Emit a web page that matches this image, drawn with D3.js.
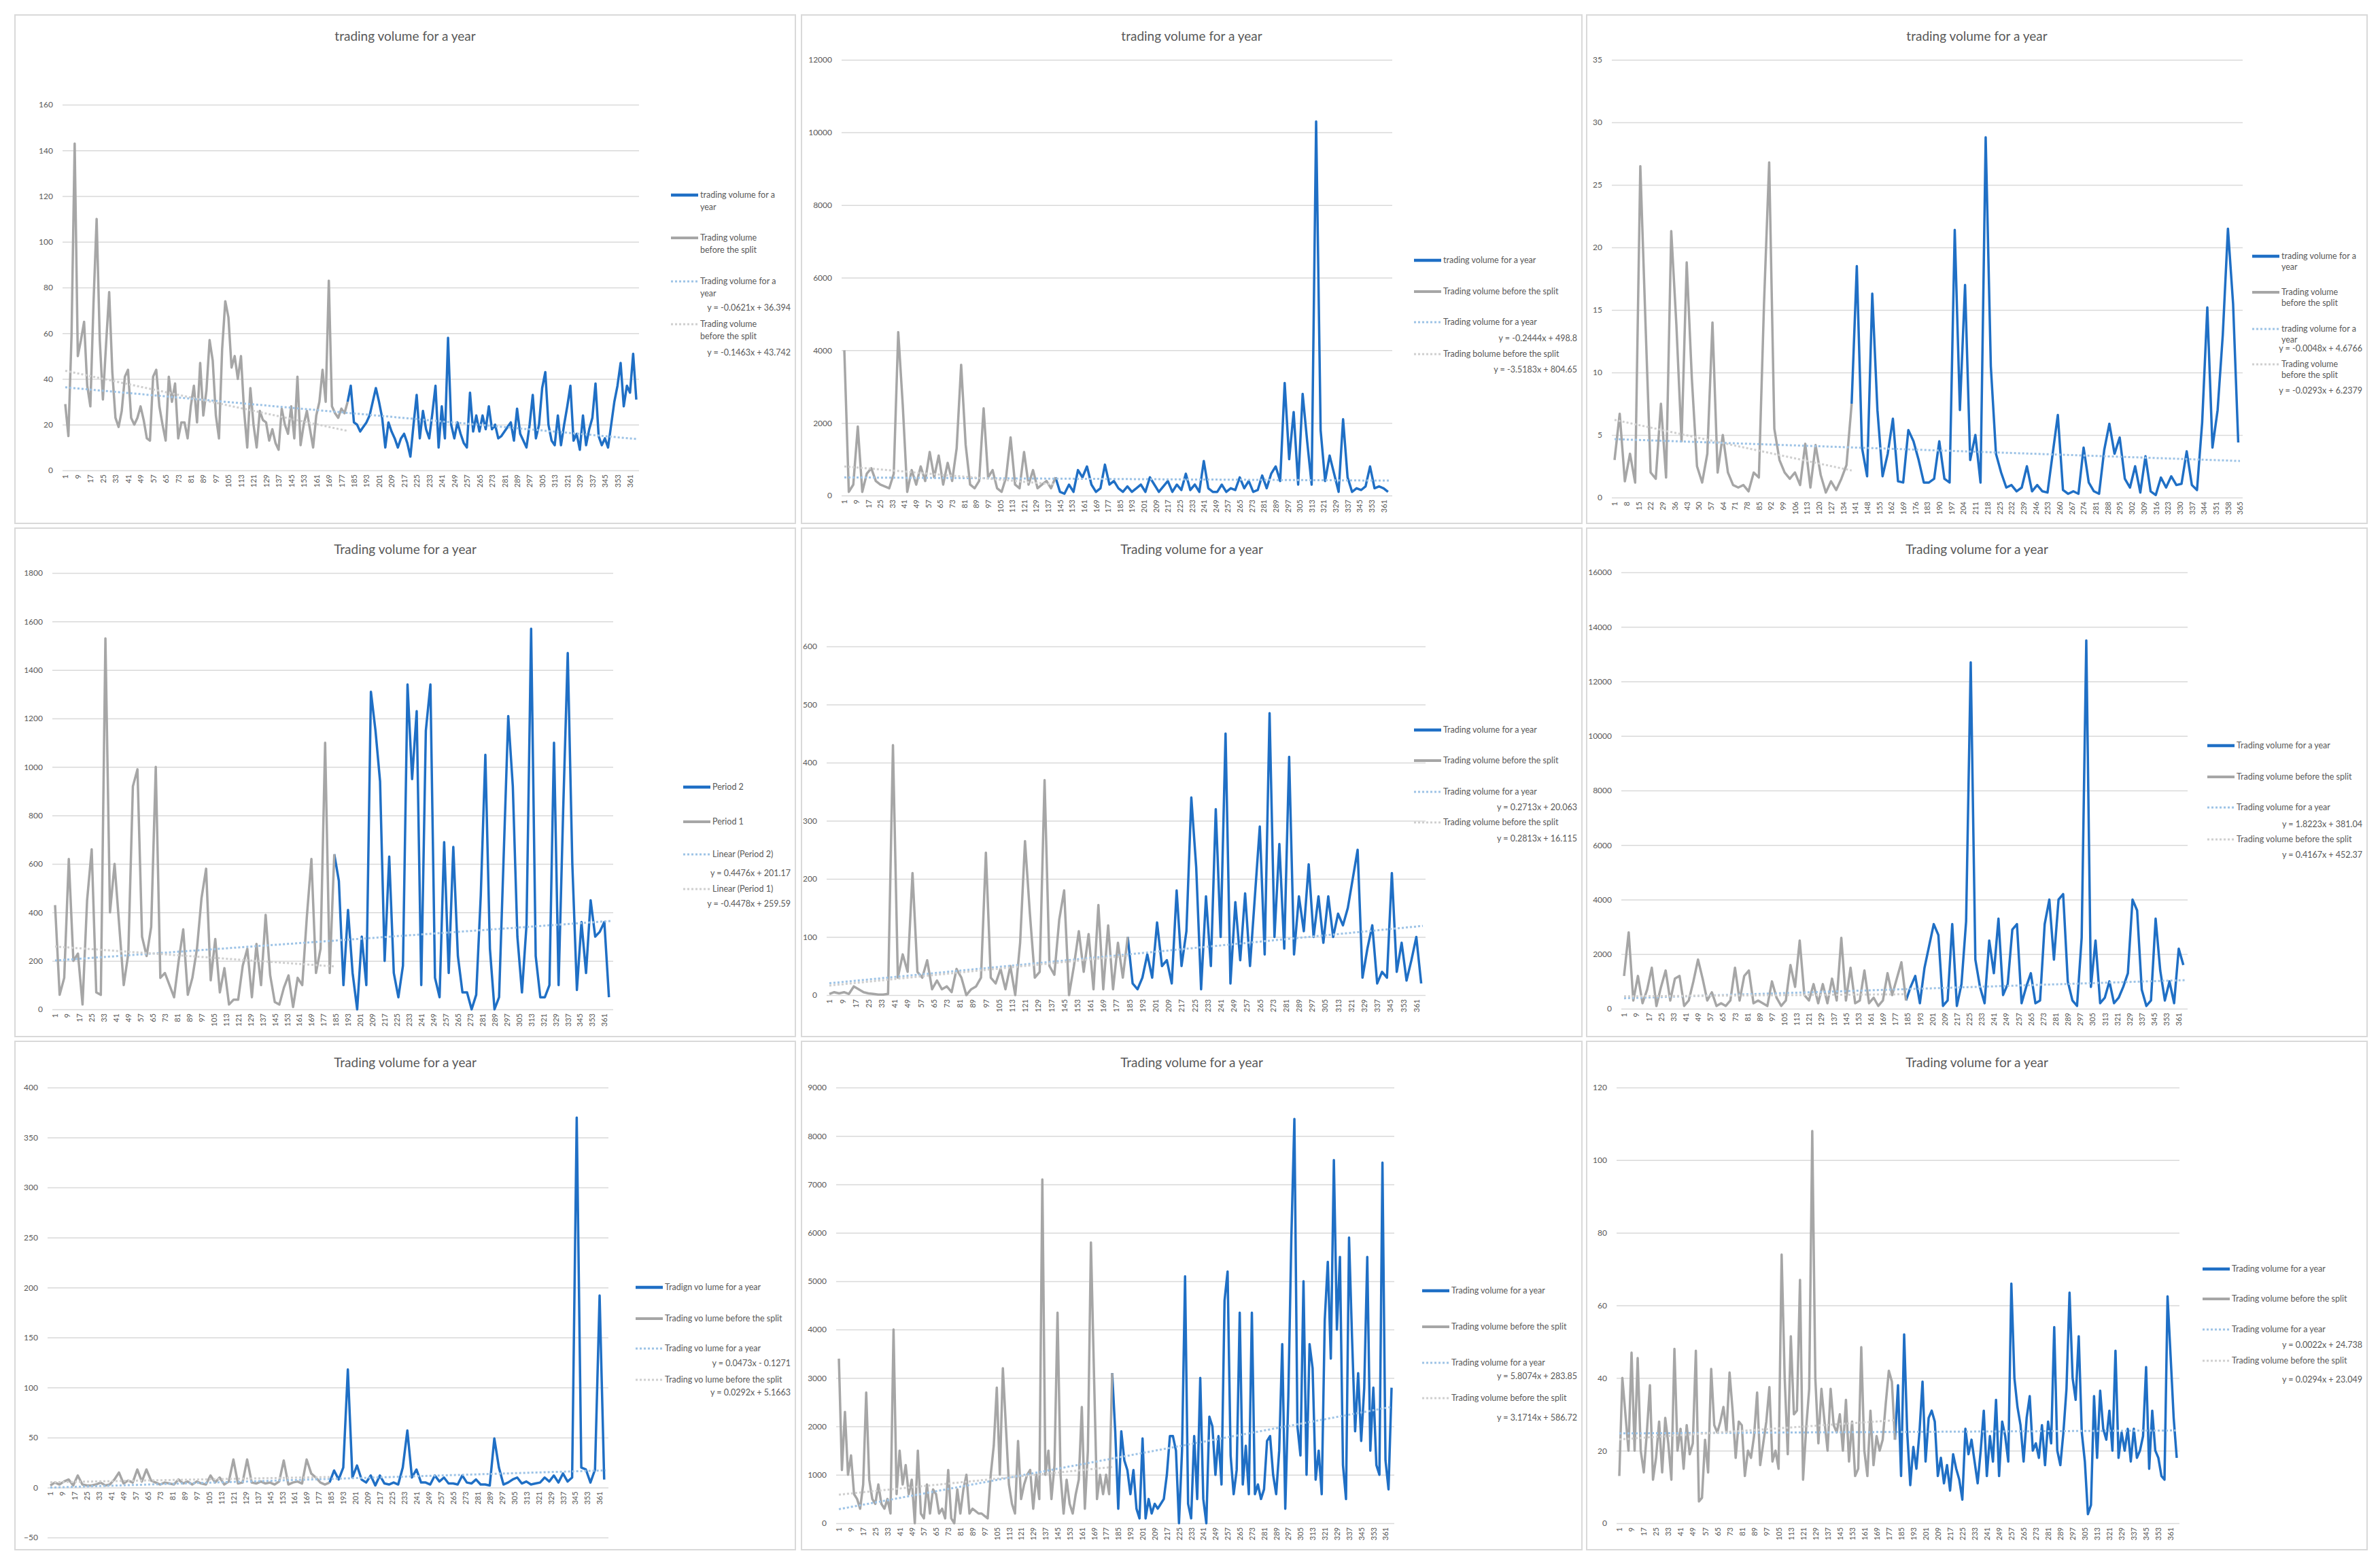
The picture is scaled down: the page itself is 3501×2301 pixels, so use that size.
<!DOCTYPE html>
<html>
<head>
<meta charset="utf-8">
<script src="https://cdn.jsdelivr.net/npm/d3@7"></script>
<style>
  body { margin: 0; background: #fff; }
  text { font-family: Lato, "Open Sans", sans-serif; fill: #595959; }
</style>
</head>
<body>
<svg id="chart" width="3501" height="2301"></svg>
<script>
"use strict";

//// data: one value every steps[i] days, gray = before the split, blue = rest of the year
const steps = [2, 3, 3, 3, 3, 3, 3, 2, 2];

const p1Before = [29,15,59,143,50,57,65,37,28,73, 110,57,31,55,78,43,23,19,26,41, 44,23,20,23,28,22,14,13,41,44, 28,20,13,41,30,38,14,21,21,14, 28,37,21,47,24,35,57,48,24,14, 53,74,67,45,50,40,50,26,10,36, 20,10,26,22,21,13,18,12,9,27, 20,16,28,14,41,11,20,26,18,10, 24,30,44,30,83,28,25,23,27,25, 30];
const p1After = [37,21,20,17,19,21,24,30,36,30, 23,10,21,17,14,10,14,16,12,6, 20,33,14,26,18,14,25,37,10,28, 14,58,20,14,21,16,12,10,34,17, 24,17,24,18,28,18,20,14,15,17, 19,21,13,27,16,13,10,20,33,14, 20,36,43,20,13,11,24,11,20,28, 37,13,16,9,24,11,18,23,38,15, 11,14,10,20,30,37,47,28,37,34, 51,31];

const p2Before = [4000,100,300,1900,100,600,750,400,300,250,200,600,4500,2500,100,700,300,800,400,1200,500,1100,300,900,400,1300,3600,1400,300,200,400,2400,500,700,200,100,500,1600,300,200,1200,300,700,200,300,400,200,500];
const p2After = [100,50,300,100,700,500,800,300,100,200,850,300,400,200,100,250,100,200,300,100,500,300,100,250,400,100,300,150,600,150,300,100,950,200,100,100,300,100,200,150,500,200,400,100,150,550,200,600,800,400,3100,1000,2300,300,2800,1500,300,10300,1800,400,1100,600,100,2100,500,100,200,150,250,800,200,250,200,100];

const p3Before = [3,6.7,1.3,3.5,1.2,26.5,14,2,1.5,7.5,1.6,21.3,13.8,4.5,18.8,9.5,2.5,1.2,3.5,14,2,5,2,1,0.8,1,0.5,2,1.6,15.5,26.8,5.5,3,2,1.5,2,1,4.3,0.8,4.2,1.8,0.4,1.3,0.6,1.5,2.6,7.5];
const p3After = [18.5,4,1.7,16.3,7,1.7,3.5,6.3,1.3,1.2,5.4,4.5,3,1.2,1.2,1.5,4.5,1.5,1.2,21.4,7,17,3,5,1.2,28.8,10.5,3.5,2,0.8,1,0.5,0.8,2.5,0.5,1,0.5,0.4,3.5,6.6,0.6,0.3,0.5,0.3,4,1.2,0.5,0.3,3.8,5.9,3.5,4.8,1.5,0.8,2.5,0.4,3.3,0.5,0.2,1.6,0.8,1.7,1,1.1,3.7,1,0.6,6,15.2,4,7,13,21.5,15.5,4.4];

const p4Before = [430,60,130,620,200,230,20,450,660,70,60,1530,400,600,350,100,230,920,990,300,220,340,1000,130,150,100,50,200,330,60,130,250,460,580,120,290,70,170,20,40,40,180,250,50,270,100,390,140,30,20,90,140,10,130,100,380,620,150,250,1100,150,640];
const p4After = [530,100,410,150,0,300,100,1310,1150,940,200,630,150,50,180,1340,950,1230,100,1150,1340,130,50,690,150,670,220,70,70,0,60,470,1050,250,0,50,630,1210,920,300,70,350,1570,220,50,50,100,1100,100,820,1470,600,80,360,150,450,300,320,360,50];

const p5Before = [2,5,3,5,2,15,10,5,3,2,1,1,2,430,30,70,40,210,40,30,60,10,25,10,15,5,45,30,0,10,15,30,245,30,20,45,10,50,0,90,265,140,30,40,370,50,35,130,180,0,50,110,40,105,10,155,10,120,10,90,30,100];
const p5After = [20,10,30,70,30,125,50,60,20,180,50,110,340,220,10,170,50,320,100,450,20,160,60,175,50,170,290,70,485,100,260,80,410,70,170,110,225,100,170,90,170,100,140,120,150,200,250,30,80,120,20,40,30,210,40,90,25,60,100,20];

const p6Before = [1200,2800,300,1200,200,700,1500,100,800,1400,300,1100,1200,100,300,1000,1800,1100,300,600,100,200,100,300,1500,300,1200,1400,200,300,200,100,1000,400,100,300,1600,800,2500,500,300,900,200,900,200,1100,300,2600,300,1500,200,300,1400,200,400,100,300,1300,500,1100,1700,300];
const p6After = [800,1200,200,1500,2300,3100,2700,100,300,3100,100,900,3200,12700,1800,800,200,2500,1300,3300,500,900,2900,3100,200,800,1300,200,300,3100,4000,1800,4000,4200,1000,300,100,2600,13500,800,2500,200,400,1000,200,400,800,1300,4000,3600,700,100,300,3300,1400,300,1000,200,2200,1600];

const p7Before = [2,5,3,6,8,2,12,3,2,2,3,5,2,3,8,15,4,7,5,18,6,18,7,5,3,5,4,3,8,4,6,3,6,4,3,12,5,10,3,6,28,4,5,28,5,4,6,4,5,3,6,27,3,5,6,4,28,14,10,5,3,5];
const p7After = [17,8,20,118,10,22,8,5,12,2,12,4,3,5,3,20,57,10,18,5,5,3,12,6,10,4,4,3,12,5,4,8,3,3,2,49,20,3,5,8,10,4,6,3,4,5,10,6,12,5,14,6,10,370,20,18,5,18,192,8];

const p8Before = [3400,1100,2300,1000,1400,600,500,300,800,2700, 900,500,400,800,400,300,500,200,4000,600, 1500,800,1200,600,900,0,1500,200,100,800, 200,700,600,200,300,100,1100,100,0,700, 200,700,1000,200,300,250,200,200,150,100, 1000,1600,2800,1000,3200,2000,800,400,200,1700, 500,800,1000,1100,300,1000,500,7100,1000,1500, 500,1200,4350,1000,200,900,400,200,600,900, 2400,300,1500,5800,3100,500,1000,600,1000,600, 3100];
const p8After = [1900,300,1900,1300,1100,600,1100,300,100,1750, 100,500,200,400,300,400,500,1000,1800,1800, 1500,0,1500,5100,400,100,1800,500,3000,500, 0,2200,2000,1000,1800,800,4600,5200,1400,600, 1100,4350,800,1600,600,4350,600,800,500,700, 1700,1800,1000,600,1500,3700,300,2600,5900,8350, 2000,1400,5000,1000,3700,3200,900,1500,600,4200, 5400,3400,7500,4000,5500,1200,500,5900,3800,1900, 3100,1700,2800,5500,1500,2800,1200,1000,7450,1300, 700,2800];

const p9Before = [13,40,30,20,47,20,45.5,20,14,25, 38,12,18,28,14,29,22,12,48,20, 26,15,27,19,22,47.5,6,7,23,14, 42.5,27,25,28,32,25,41.5,31,18,28, 27,13,20,18,24,36,16,22,28,37.5, 17,20,15,74,40,19,51.5,30,31,67, 12,26,37,108,40,22,37,28,20,37, 27,25,30,20,34,17,28,13,15,48.5, 20,13,31,16,24,20,23,33,42,39, 23];
const p9After = [38,13,52,25,10.5,21,15,25,39,17, 29,31,28,13,18,11,16,9,19,15, 12,6.5,26,19,23,17,11,20,31,13, 24,17,34,13,28,24,17,66,40,32, 27,17,29,35,20,22,18,27,16,28, 22,54,20,16,25,37,63.5,40,34,51.5, 25,17,2.5,5,35,18,36.5,26,23,31, 20,47.5,18,25,20,26,17,26,18,20, 24,43,15,31,20,18,13,12,62.5,46, 29,18];

//// linear trend coefficients [slope, intercept] as printed on the charts
const trendYear = [[-0.0621, 36.394], [-0.2444, 498.8], [-0.0048, 4.6766], [0.4476, 201.17], [0.2713, 20.063], [1.8223, 381.04], [0.0473, -0.1271], [5.8074, 283.85], [0.0022, 24.738]];
const trendSplit = [[-0.1463, 43.742], [-3.5183, 804.65], [-0.0293, 6.2379], [-0.4478, 259.59], [0.2813, 16.115], [0.4167, 452.37], [0.0292, 5.1663], [3.1714, 586.72], [0.0294, 23.049]];

//// tick labels
const yTicks = [
    [0, 20, 40, 60, 80, 100, 120, 140, 160],
    [0, 2000, 4000, 6000, 8000, 10000, 12000],
    [0, 5, 10, 15, 20, 25, 30, 35],
    [0, 200, 400, 600, 800, 1000, 1200, 1400, 1600, 1800],
    [0, 100, 200, 300, 400, 500, 600],
    [0, 2000, 4000, 6000, 8000, 10000, 12000, 14000, 16000],
    [-50, 0, 50, 100, 150, 200, 250, 300, 350, 400],
    [0, 1000, 2000, 3000, 4000, 5000, 6000, 7000, 8000, 9000],
    [0, 20, 40, 60, 80, 100, 120]
];
const dayTicks8 = d3.range(1, 366, 8);
const dayTicks7 = d3.range(1, 366, 7);

const titles = [
    "trading volume for a year", "trading volume for a year", "trading volume for a year",
    "Trading volume for a year", "Trading volume for a year", "Trading volume for a year",
    "Trading volume for a year", "Trading volume for a year", "Trading volume for a year"
];
const legendLabels = [
    ["trading volume for a|year", "Trading volume|before the split", "Trading volume for a|year", "Trading volume|before the split"],
    ["trading volume for a year", "Trading volume before the split", "Trading volume for a year", "Trading bolume before the split"],
    ["trading volume for a|year", "Trading volume|before the split", "trading volume for a|year", "Trading volume|before the split"],
    ["Period 2", "Period 1", "Linear  (Period 2)", "Linear  (Period 1)"],
    ["Trading volume for a year", "Trading volume before the split", "Trading volume for a year", "Trading volume before the split"],
    ["Trading volume for a year", "Trading volume before the split", "Trading volume for a year", "Trading volume before the split"],
    ["Tradign vo lume for a year", "Trading vo lume before the split", "Trading vo lume for a year", "Trading vo lume before the split"],
    ["Trading volume for a year", "Trading volume before the split", "Trading volume for a year", "Trading volume before the split"],
    ["Trading volume for a year", "Trading volume before the split", "Trading volume for a year", "Trading volume before the split"]
];

(function () {
    //// layout
    const colX = [22, 1179, 2334], rowY = [22, 777, 1532];
    const panelW = 1148, panelH = 748;
    // [left, right, y of top tick, y of bottom tick]
    const plotBox = [
        [70, 918, 132, 670], [59, 869, 66, 707], [37, 965, 66, 710],
        [55, 880, 66, 708], [37, 918, 174, 687], [51, 884, 65, 707],
        [48, 873, 68, 730], [51, 872, 68, 709], [44, 872, 68, 709]
    ];
    // legend line x, y of each entry, y of the two equations
    const legendPos = [
        [965, [265, 328, 392, 455], [431, 497]],
        [901, [361, 407, 452, 499], [476, 522]],
        [979, [355, 408, 462, 514], [491, 553]],
        [983, [381, 432, 480, 531], [508, 553]],
        [901, [297, 342, 388, 433], [411, 457]],
        [913, [320, 366, 411, 458], [436, 481]],
        [913, [362, 408, 452, 498], [474, 517]],
        [913, [367, 420, 473, 525], [493, 554]],
        [906, [335, 379, 424, 470], [447, 498]]
    ];
    const series = [
        [p1Before, p1After], [p2Before, p2After], [p3Before, p3After],
        [p4Before, p4After], [p5Before, p5After], [p6Before, p6After],
        [p7Before, p7After], [p8Before, p8After], [p9Before, p9After]
    ];

    const BLUE = "#1f6fc5", GRAY = "#a6a6a6", BLUE_TREND = "#9dc3e6", GRAY_TREND = "#cfcfcf";

    const svg = d3.select("#chart");
    svg.append("rect").attr("width", 3501).attr("height", 2301).attr("fill", "#fff");

    for (let i = 0; i < 9; i++) drawPanel(i);

    function eqText(c) {
        return "y = " + c[0] + "x " + (c[1] < 0 ? "- " : "+ ") + Math.abs(c[1]);
    }

    function drawPanel(i) {
        const [left, right, top, bottom] = plotBox[i];
        const step = steps[i];
        const g = svg.append("g")
            .attr("transform", "translate(" + colX[i % 3] + "," + rowY[Math.floor(i / 3)] + ")");

        g.append("rect")
            .attr("x", 0).attr("y", 0)
            .attr("width", panelW).attr("height", panelH)
            .attr("fill", "#fff").attr("stroke", "#d9d9d9").attr("stroke-width", 2);

        g.append("text")
            .attr("x", panelW / 2).attr("y", 38)
            .attr("text-anchor", "middle")
            .style("font-size", "19px")
            .text(titles[i]);

        const ticks = yTicks[i];
        const x = d3.scaleLinear().domain([1, 365]).range([left + 4, right - 4]);
        const y = d3.scaleLinear().domain([ticks[0], ticks[ticks.length - 1]]).range([bottom, top]);

        //// y axis with gridlines
        g.append("g")
            .attr("transform", "translate(" + left + ",0)")
            .call(d3.axisLeft(y).tickValues(ticks).tickFormat(d3.format("d"))
                .tickSize(-(right - left)).tickPadding(14))
            .call(a => a.select(".domain").remove())
            .call(a => a.selectAll(".tick line").attr("stroke", "#d9d9d9").attr("stroke-width", 1.5))
            .call(a => a.selectAll(".tick text")
                .attr("fill", "#595959")
                .style("font-size", "12px")
                .style("font-family", "Lato, sans-serif"));

        //// category axis, labels turned upright
        g.append("g")
            .attr("transform", "translate(0," + y(0) + ")")
            .call(d3.axisBottom(x).tickValues(i === 2 ? dayTicks7 : dayTicks8).tickSize(0))
            .call(a => a.select(".domain").remove())
            .call(a => a.selectAll(".tick text")
                .attr("transform", "rotate(-90)")
                .attr("text-anchor", "end")
                .attr("x", -6).attr("y", 0).attr("dy", "0.35em")
                .attr("fill", "#595959")
                .style("font-size", "11px")
                .style("font-family", "Lato, sans-serif"));

        //// series
        const before = series[i][0].map((v, k) => ({ day: 1 + step * k, v: v }));
        const last = before[before.length - 1];
        const after = [last].concat(series[i][1].map((v, k) => ({ day: last.day + step * (k + 1), v: v })));

        const line = d3.line().x(d => x(d.day)).y(d => y(d.v));

        g.append("path").datum(after)
            .attr("d", line).attr("fill", "none")
            .attr("stroke", BLUE).attr("stroke-width", 3.5).attr("stroke-linejoin", "round");
        g.append("path").datum(before)
            .attr("d", line).attr("fill", "none")
            .attr("stroke", GRAY).attr("stroke-width", 3.5).attr("stroke-linejoin", "round");

        //// trend lines
        const ty = trendYear[i], ts = trendSplit[i];
        g.append("path").datum([1, 365].map(d => ({ day: d, v: ty[0] * d + ty[1] })))
            .attr("d", line).attr("fill", "none")
            .attr("stroke", BLUE_TREND).attr("stroke-width", 3).attr("stroke-dasharray", "3,3");
        g.append("path").datum([1, last.day].map(d => ({ day: d, v: ts[0] * d + ts[1] })))
            .attr("d", line).attr("fill", "none")
            .attr("stroke", GRAY_TREND).attr("stroke-width", 3).attr("stroke-dasharray", "3,3");

        //// legend
        const [lx, lys, eqys] = legendPos[i];
        const styles = [
            { c: BLUE, w: 4.5, dash: null }, { c: GRAY, w: 4, dash: null },
            { c: BLUE_TREND, w: 3, dash: "3,3" }, { c: GRAY_TREND, w: 3, dash: "3,3" }
        ];
        const lineGap = (i === 2) ? 16 : 18;
        legendLabels[i].forEach(function (label, k) {
            const ly = lys[k];
            g.append("line")
                .attr("x1", lx).attr("x2", lx + 40)
                .attr("y1", ly).attr("y2", ly)
                .attr("stroke", styles[k].c).attr("stroke-width", styles[k].w)
                .attr("stroke-dasharray", styles[k].dash);
            label.split("|").forEach(function (p, j) {
                g.append("text")
                    .attr("x", lx + 43).attr("y", ly + j * lineGap)
                    .attr("dy", "0.35em")
                    .style("font-size", "12.5px")
                    .text(p);
            });
            if (k >= 2) {
                g.append("text")
                    .attr("x", 1141).attr("y", eqys[k - 2])
                    .attr("dy", "0.35em")
                    .attr("text-anchor", "end")
                    .style("font-size", "12.5px")
                    .text(eqText(k === 2 ? ty : ts));
            }
        });
    }
})();
</script>
</body>
</html>
